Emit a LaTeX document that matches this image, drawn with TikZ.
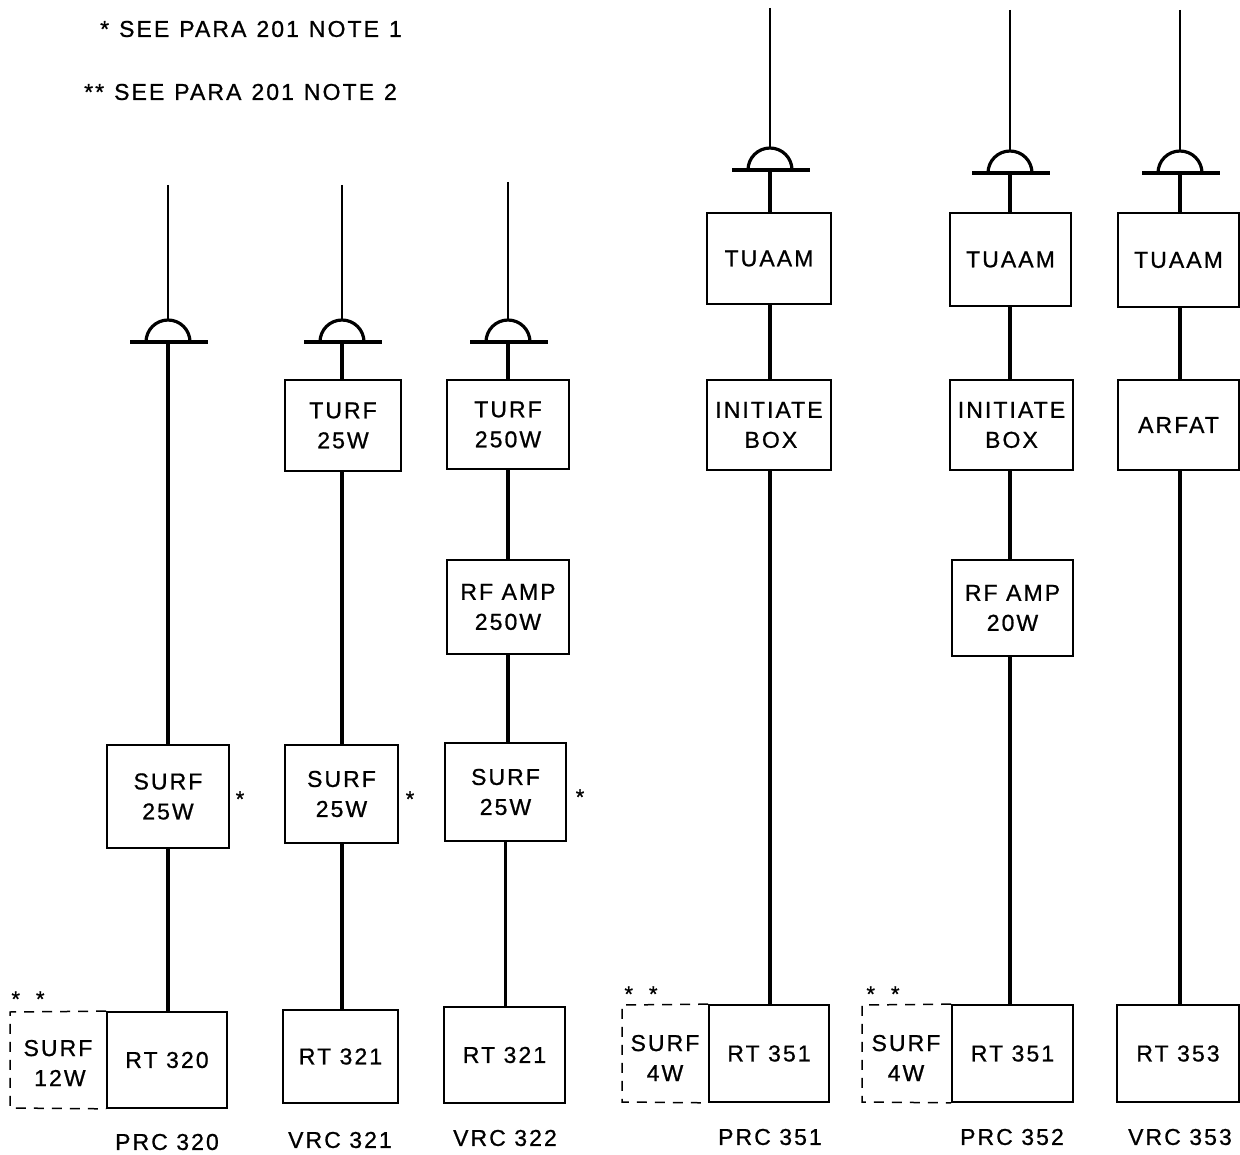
\documentclass[tikz,border=0pt]{standalone}
\usepackage{fontspec}
\setmainfont[LetterSpace=9,FakeBold=0.8]{Liberation Sans}
\begin{document}
\begin{tikzpicture}[x=1pt,y=-1pt,
  box/.style={draw,line width=1.7pt,align=center,inner sep=0pt,font=\fontsize{23}{30}\selectfont},
  dbox/.style={align=center,inner sep=0pt,font=\fontsize{23}{30}\selectfont},
  dline/.style={line width=1.5pt,dash pattern=on 10pt off 8pt},
  wire/.style={line width=3.2pt},
  mast/.style={line width=2.2pt},
  lbl/.style={font=\fontsize{23}{26}\selectfont,inner sep=0pt},
  star/.style={font=\fontsize{22}{24}\selectfont,inner sep=0pt}]
\useasboundingbox (0,0) rectangle (1240,1155);
% notes
\node[lbl,anchor=west] (n1) at (100,29) {\spaceskip=10pt\relax * SEE PARA 201 NOTE 1};
\node[lbl,anchor=west] (n2) at (84,92) {\spaceskip=10pt\relax ** SEE PARA 201 NOTE 2};
\newcommand\antsym[4]{% name, x, top, base
  \coordinate (#1t) at (#2,#3);
  \coordinate (#1b) at (#2,#4);
  \draw[mast] (#1t) -- ++(0,{#4-#3-22});
  \draw[wire] (#2-22,#4) arc[start angle=180,end angle=360,radius=22];
  \draw[wire] (#2-38,#4) -- (#2+40,#4);
}
% ---- column 1 PRC 320
\antsym{a1}{168}{185}{342}
\node[box,minimum width=122,minimum height=103] (c1s) at (168,796.5) {SURF\\25W};
\node[box,minimum width=120,minimum height=96] (c1r) at (167,1060) {RT 320};
\node[dbox] (c1d) at (58,1063) {SURF\\\,12W};
\draw[dline] (c1r.north west) -- (10,1012) -- (10,1108) -- (c1r.south west);
\node[star] (c1st) at (240,799) {*};
\node[star] (c1dd) at (28,999) {*\hspace{16pt}*};
\node[lbl] (c1l) at (167,1142) {PRC 320};
\draw[wire] (a1b) -- (c1s);
\draw[wire] (c1s) -- (c1s.south |- c1r.north);
% ---- column 2 VRC 321
\antsym{a2}{342}{185}{342}
\node[box,minimum width=116,minimum height=91] (c2t) at (343,425.5) {TURF\\25W};
\node[box,minimum width=113,minimum height=98] (c2s) at (341.5,794) {SURF\\25W};
\node[box,minimum width=115,minimum height=93] (c2r) at (340.5,1056.5) {RT 321};
\node[star] (c2st) at (410,799) {*};
\node[lbl] (c2l) at (340,1140) {VRC 321};
\draw[wire] (a2b) -- (a2b |- c2t.north);
\draw[wire] (a2b |- c2t.south) -- (a2b |- c2s.north);
\draw[wire] (a2b |- c2s.south) -- (a2b |- c2r.north);
% ---- column 3 VRC 322
\antsym{a3}{508}{182}{342}
\node[box,minimum width=122,minimum height=89] (c3t) at (508,424.5) {TURF\\250W};
\node[box,minimum width=122,minimum height=94] (c3a) at (508,607) {RF AMP\\250W};
\node[box,minimum width=121,minimum height=98] (c3s) at (505.5,792) {SURF\\25W};
\node[box,minimum width=121,minimum height=96] (c3r) at (504.5,1055) {RT 321};
\node[star] (c3st) at (580,797) {*};
\node[lbl] (c3l) at (505,1138) {VRC 322};
\draw[wire] (a3b) -- (a3b |- c3t.north);
\draw[wire] (a3b |- c3t.south) -- (a3b |- c3a.north);
\draw[wire] (a3b |- c3a.south) -- (a3b |- c3s.north);
\draw[wire] (c3s.south) -- (c3s.south |- c3r.north);
% ---- column 4 PRC 351
\antsym{a4}{770}{8}{170}
\node[box,minimum width=124,minimum height=91] (c4t) at (769,258.5) {TUAAM};
\node[box,minimum width=124,minimum height=90] (c4i) at (769,425) {INITIATE\\\,BOX};
\node[box,minimum width=120,minimum height=97] (c4r) at (769,1053.5) {RT 351};
\node[dbox] (c4d) at (665,1058) {SURF\\4W};
\draw[dline] (c4r.north west) -- (622,1005) -- (622,1102) -- (c4r.south west);
\node[star] (c4dd) at (641,994) {*\hspace{16pt}*};
\node[lbl] (c4l) at (770,1137) {PRC 351};
\draw[wire] (a4b) -- (a4b |- c4t.north);
\draw[wire] (a4b |- c4t.south) -- (a4b |- c4i.north);
\draw[wire] (a4b |- c4i.south) -- (a4b |- c4r.north);
% ---- column 5 PRC 352
\antsym{a5}{1010}{10}{173}
\node[box,minimum width=121,minimum height=93] (c5t) at (1010.5,259.5) {TUAAM};
\node[box,minimum width=123,minimum height=90] (c5i) at (1011.5,425) {INITIATE\\BOX};
\node[box,minimum width=121,minimum height=96] (c5a) at (1012.5,608) {RF AMP\\20W};
\node[box,minimum width=121,minimum height=97] (c5r) at (1012.5,1053.5) {RT 351};
\node[dbox] (c5d) at (906,1058) {SURF\\4W};
\draw[dline] (c5r.north west) -- (862,1005) -- (862,1102) -- (c5r.south west);
\node[star] (c5dd) at (883,994) {*\hspace{16pt}*};
\node[lbl] (c5l) at (1012,1137) {PRC 352};
\draw[wire] (a5b) -- (a5b |- c5t.north);
\draw[wire] (a5b |- c5t.south) -- (a5b |- c5i.north);
\draw[wire] (a5b |- c5i.south) -- (a5b |- c5a.north);
\draw[wire] (a5b |- c5a.south) -- (a5b |- c5r.north);
% ---- column 6 VRC 353
\antsym{a6}{1180}{10}{173}
\node[box,minimum width=121,minimum height=94] (c6t) at (1178.5,260) {TUAAM};
\node[box,minimum width=121,minimum height=90] (c6a) at (1178.5,425) {ARFAT};
\node[box,minimum width=122,minimum height=97] (c6r) at (1178,1053.5) {RT 353};
\node[lbl] (c6l) at (1180,1137) {VRC 353};
\draw[wire] (a6b) -- (a6b |- c6t.north);
\draw[wire] (a6b |- c6t.south) -- (a6b |- c6a.north);
\draw[wire] (a6b |- c6a.south) -- (a6b |- c6r.north);
\end{tikzpicture}
\end{document}
